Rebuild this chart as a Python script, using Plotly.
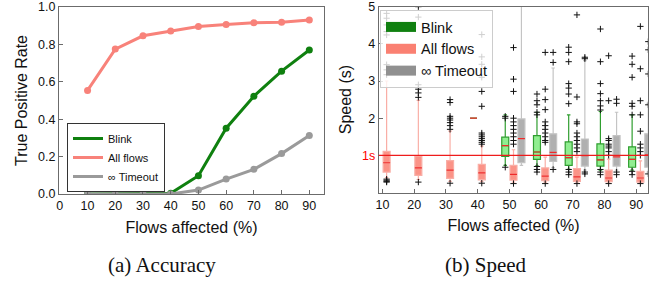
import plotly.graph_objects as go

# ---------------- (a) Accuracy data ----------------
flows = [10, 20, 30, 40, 50, 60, 70, 80, 90]
tpr_blink = [0, 0, 0, 0.004, 0.098, 0.352, 0.523, 0.657, 0.770]
tpr_all = [0.554, 0.775, 0.846, 0.871, 0.896, 0.907, 0.916, 0.918, 0.930]
tpr_timeout = [0, 0, 0, 0, 0.021, 0.080, 0.132, 0.216, 0.3125]

# ---------------- (b) Speed data (box statistics, seconds) ----------------
all_groups = [10, 20, 30, 40, 50, 60, 70, 80, 90]
all_q1 = [0.55, 0.46, 0.38, 0.34, 0.33, 0.32, 0.30, 0.29, 0.28]
all_med = [0.80, 0.66, 0.60, 0.53, 0.49, 0.44, 0.42, 0.39, 0.39]
all_q3 = [1.11, 0.98, 0.86, 0.76, 0.73, 0.66, 0.64, 0.60, 0.57]
all_lo = [0.40, 0.35, 0.30, 0.29, 0.28, 0.28, 0.28, 0.28, 0.27]
all_hi = [3.00, 2.48, 1.65, 1.25, 1.15, 0.95, 0.95, 0.90, 0.85]
all_out = [
    [4.82, 4.69, 4.51, 4.33, 4.24, 3.44, 3.30, 3.17, 0.36, 0.33, 0.30, 0.28],
    [5.0, 4.72, 2.90, 2.78, 2.68, 2.56, 0.28],
    [2.50, 2.42, 2.05, 2.0, 1.95, 1.88, 1.80, 1.70, 0.25],
    [4.25, 3.65, 3.45, 3.10, 2.72, 2.32, 1.60, 1.55, 1.50, 1.45, 1.40, 1.35, 1.30, 0.25],
    [3.90, 3.05, 2.72, 2.0, 1.9, 1.8, 1.7, 1.6, 1.5, 1.4, 1.3, 0.24],
    [3.77, 2.78, 2.50, 2.23, 1.9, 1.8, 1.7, 1.6, 1.5, 1.4, 1.35, 0.24],
    [4.78, 2.57, 1.9, 1.85, 1.6, 1.5, 1.4, 1.3, 1.2, 1.1, 0.24],
    [3.68, 2.47, 1.45, 1.4, 1.3, 1.25, 1.2, 1.1, 1.0, 0.24],
    [4.47, 3.33, 2.47, 2.09, 1.65, 1.3, 1.2, 1.1, 1.0, 0.24],
]

blink_groups = [40, 50, 60, 70, 80, 90]
blink_q1 = [2.0, 0.97, 0.89, 0.73, 0.71, 0.68]
blink_med = [2.0, 1.26, 1.09, 0.94, 0.88, 0.89]
blink_q3 = [2.0, 1.49, 1.53, 1.36, 1.31, 1.23]
blink_lo = [2.0, 0.73, 0.72, 0.62, 0.60, 0.60]
blink_hi = [2.0, 2.09, 2.16, 2.09, 2.18, 2.09]
blink_out = [
    [],
    [2.05, 2.0, 0.68],
    [2.65, 2.47, 2.36, 2.16, 2.09, 0.70, 0.62, 0.55],
    [3.91, 3.77, 3.52, 2.93, 2.81, 2.65, 2.39, 0.62, 0.55, 0.48],
    [4.40, 3.52, 2.93, 2.66, 2.47, 2.33, 2.22, 0.62, 0.55, 0.48],
    [3.67, 3.45, 3.10, 2.40, 2.32, 2.09, 0.57, 0.48],
]

timeout_groups = [50, 60, 70, 80, 90]
timeout_q1 = [0.80, 0.84, 0.71, 0.71, 0.68]
timeout_med = [1.45, 1.08, 0.99, 0.96, 1.01]
timeout_q3 = [1.98, 1.58, 1.44, 1.53, 1.58]
timeout_lo = [0.73, 0.67, 0.60, 0.60, 0.55]
timeout_hi = [5.6, 3.35, 3.55, 2.16, 2.40]
timeout_out = [
    [],
    [3.77, 3.50, 0.62],
    [3.64, 3.60, 0.55, 0.50],
    [2.51, 2.40, 0.55, 0.48],
    [4.06, 3.84, 3.19, 2.36, 0.50],
]

speed_ticks = [1, 2, 3, 4, 5]
speed_ticktext = ['<span style="color:red">1s</span>', '2', '3', '4', '5']

series_names = ["Blink", "All flows", "\u221e Timeout"]

# ---------------- styling ----------------
FONT = "Liberation Sans, Arial, sans-serif"
SERIF = "Liberation Serif, Times New Roman, serif"
C_BLINK = "#0f800f"
C_ALL = "#f8827a"
C_TO = "#9a9a9a"
W, H = 656, 289

fig = go.Figure()

# --- left: line chart ---
for name, ys, col in [(series_names[0], tpr_blink, C_BLINK),
                      (series_names[1], tpr_all, C_ALL),
                      (series_names[2], tpr_timeout, C_TO)]:
    fig.add_trace(go.Scatter(
        x=flows, y=ys, name=name, mode="lines+markers", showlegend=False,
        line=dict(color=col, width=3), marker=dict(color=col, size=7),
        xaxis="x", yaxis="y"))
    # legend entry (line only, as in the reference)
    fig.add_trace(go.Scatter(
        x=[None], y=[None], name=name, mode="lines",
        line=dict(color=col, width=3), xaxis="x", yaxis="y", legend="legend"))

# --- right: box plots ---
OFFS = {"blink": -1.3, "all": 1.3, "to": 3.8}
BW = 2.2


def add_boxes(groups, q1, med, q3, lo, hi, outs, off, fill, line):
    pos = [g + off for g in groups]
    fig.add_trace(go.Box(
        x=pos, q1=q1, median=med, q3=q3, lowerfence=lo, upperfence=hi,
        width=BW, fillcolor=fill, line=dict(color=line, width=1.2),
        whiskerwidth=0.5, boxpoints=False, showlegend=False,
        xaxis="x2", yaxis="y2", hoverinfo="skip"))
    # red median lines
    fig.add_trace(go.Box(
        x=pos, q1=med, median=med, q3=med, lowerfence=med, upperfence=med,
        width=BW, fillcolor="rgba(0,0,0,0)", line=dict(color="#ee2a2a", width=1.2),
        whiskerwidth=0, boxpoints=False, showlegend=False,
        xaxis="x2", yaxis="y2", hoverinfo="skip"))
    ox, oy = [], []
    for p, vals in zip(pos, outs):
        for v in vals:
            ox.append(p)
            oy.append(v)
    fig.add_trace(go.Scatter(
        x=ox, y=oy, mode="markers", showlegend=False,
        marker=dict(symbol="cross-thin", size=4.5, line=dict(color="#111111", width=1)),
        xaxis="x2", yaxis="y2", hoverinfo="skip"))


add_boxes(all_groups, all_q1, all_med, all_q3, all_lo, all_hi, all_out,
          OFFS["all"], "rgba(250,128,114,0.85)", "#f9aea6")
add_boxes(blink_groups, blink_q1, blink_med, blink_q3, blink_lo, blink_hi, blink_out,
          OFFS["blink"], "#90ee90", "#2f9e2f")
add_boxes(timeout_groups, timeout_q1, timeout_med, timeout_q3, timeout_lo, timeout_hi, timeout_out,
          OFFS["to"], "#b0b0b0", "#c4c4c4")

# legend entries for the box plot
for name, col in zip(series_names, ["#108010", "#fa8072", "#909090"]):
    fig.add_trace(go.Scatter(
        x=[None], y=[None], name=name, mode="lines",
        line=dict(color=col, width=10), xaxis="x2", yaxis="y2", legend="legend2"))

# --- layout ---
axis_common = dict(showline=True, mirror=True, linecolor="#6b6b6b", linewidth=1,
                   ticks="inside", ticklen=4, tickcolor="#6b6b6b", showgrid=False,
                   zeroline=False, automargin=False,
                   tickfont=dict(family=FONT, size=12.5, color="#111"))

fig.update_layout(
    width=W, height=H, margin=dict(l=0, r=0, t=0, b=0, autoexpand=False),
    paper_bgcolor="white", plot_bgcolor="white",
    boxmode="overlay",
    font=dict(family=FONT, color="#111"),
    xaxis=dict(domain=[59 / W, 324 / W], range=[-0.3, 95.3], tickvals=list(range(0, 100, 10)),
               title=dict(text="Flows affected (%)", font=dict(size=16), standoff=9),
               anchor="y", **axis_common),
    yaxis=dict(domain=[1 - 194 / H, 1 - 7 / H], range=[0, 1.0], tickvals=[0, 0.2, 0.4, 0.6, 0.8, 1.0],
               tickformat=".1f",
               title=dict(text="True Positive Rate", font=dict(size=16), standoff=6),
               anchor="x", **axis_common),
    xaxis2=dict(domain=[378.7 / W, 648.3 / W], range=[8.8, 93.8], tickvals=flows,
                title=dict(text="Flows affected (%)", font=dict(size=16), standoff=9),
                anchor="y2", **axis_common),
    yaxis2=dict(domain=[1 - 192.5 / H, 1 - 6.7 / H], range=[0, 5], tickvals=speed_ticks,
                ticktext=speed_ticktext,
                title=dict(text="Speed (s)", font=dict(size=16), standoff=6),
                anchor="x2", **axis_common),
    legend=dict(x=67 / W, y=1 - 192 / H, xanchor="left", yanchor="bottom",
                bgcolor="white", bordercolor="#333", borderwidth=1,
                font=dict(family=FONT, size=11, color="#111"), tracegroupgap=0,
                itemwidth=30),
    legend2=dict(x=380 / W, y=1 - 10 / H, xanchor="left", yanchor="top",
                 bgcolor="rgba(255,255,255,0.8)", bordercolor="#cccccc", borderwidth=1,
                 font=dict(family=FONT, size=14.5, color="#111"), tracegroupgap=0,
                 itemwidth=30),
    shapes=[dict(type="line", xref="x2 domain", yref="y2", x0=0, x1=1, y0=1, y1=1,
                 line=dict(color="#ee1c1c", width=1.3), layer="above")],
    annotations=[
        dict(text="(a) Accuracy", x=162 / W, y=1 - 265 / H, xref="paper", yref="paper",
             xanchor="center", yanchor="middle",
             showarrow=False, font=dict(family=SERIF, size=21, color="#111")),
        dict(text="(b) Speed", x=486 / W, y=1 - 265 / H, xref="paper", yref="paper",
             xanchor="center", yanchor="middle",
             showarrow=False, font=dict(family=SERIF, size=21, color="#111")),
    ],
)

fig.write_html("out.html", config={"displayModeBar": False},
               post_script="document.body.style.margin='0';")
